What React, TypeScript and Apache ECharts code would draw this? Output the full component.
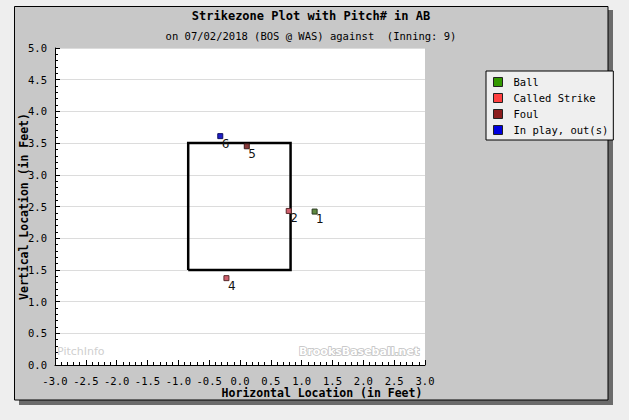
import React, { useEffect, useRef } from "react";
import * as echarts from "echarts";

// ---- data ----
const seriesNames = ["Ball", "Called Strike", "Foul", "In play, out(s)"];
const ballX = [1.21];
const ballY = [2.42];
const ballNum = ["1"];
const calledX = [0.79, -0.22];
const calledY = [2.43, 1.37];
const calledNum = ["2", "4"];
const foulX = [0.11];
const foulY = [3.45];
const foulNum = ["5"];
const inplayX = [-0.32];
const inplayY = [3.61];
const inplayNum = ["6"];
const szLeft = -0.84;
const szRight = 0.82;
const szBottom = 1.5;
const szTop = 3.5;
const xMin = -3, xMax = 3, yMin = 0, yMax = 5, tickStep = 0.5;

const titleText = "Strikezone Plot with Pitch# in AB";
const subtitleText = "on 07/02/2018 (BOS @ WAS) against  (Inning: 9)";
const xName = "Horizontal Location (in Feet)";
const yName = "Vertical Location (in Feet)";

const MONO = "DejaVu Sans Mono";

const fills = ["#5f8a40", "#d0606e", "#8a3a3a", "#1e1ec8"];
const borders = ["#2a3a20", "#5a2a2a", "#3a1a1a", "#101060"];
const legendFills = ["#339900", "#ff4040", "#8b1c1c", "#0000e0"];

function pts(xs: number[], ys: number[], ns: string[]) {
  return xs.map((x, i) => [x, ys[i], ns[i]]);
}

export default function App() {
  const ref = useRef<HTMLDivElement>(null);
  useEffect(() => {
    if (!ref.current) return;
    const chart = echarts.init(ref.current, undefined, { renderer: "svg" });
    const datas = [
      pts(ballX, ballY, ballNum),
      pts(calledX, calledY, calledNum),
      pts(foulX, foulY, foulNum),
      pts(inplayX, inplayY, inplayNum),
    ];
    const scatter = datas.map((d, i) => ({
      type: "scatter",
      name: seriesNames[i],
      data: d,
      symbol: "rect",
      symbolSize: 5,
      z: 5,
      itemStyle: { color: fills[i], borderColor: borders[i], borderWidth: 1, opacity: 1 },
      label: {
        show: true,
        formatter: (p: any) => p.data[2],
        position: [4.5, 4.5],
        fontFamily: "DejaVu Sans",
        fontSize: 12,
        color: "#111",
      },
    }));
    const option: any = {
      animation: false,
      backgroundColor: "#eeeeee",
      graphic: [
        { type: "rect", z: -100, shape: { x: 19, y: 10, width: 594, height: 395 }, style: { fill: "#6b6b6b" } },
        { type: "rect", z: -99, shape: { x: 14.5, y: 6.5, width: 593.5, height: 393.5 }, style: { fill: "#c8c8c8", stroke: "#000", lineWidth: 1 } },
        { type: "text", z: 1, x: 57, y: 346, style: { text: "PitchInfo", fill: "#cfcfcf", font: "11px 'DejaVu Sans'" } },
        { type: "text", z: 1, x: 299, y: 346, style: { text: "BrooksBaseball.net", fill: "#ffffff", stroke: "#c0c0c0", lineWidth: 1.5, font: "bold 11px 'DejaVu Sans'" } },
      ],
      title: [
        {
          text: titleText,
          left: 311,
          top: 10,
          textAlign: "center",
          padding: 0,
          textStyle: { fontFamily: MONO, fontSize: 12, fontWeight: "bold", color: "#000" },
        },
        {
          text: subtitleText,
          left: 311,
          top: 30,
          textAlign: "center",
          padding: 0,
          textStyle: { fontFamily: MONO, fontSize: 10.5, fontWeight: "normal", color: "#000" },
        },
      ],
      legend: {
        orient: "vertical",
        left: 486,
        top: 71,
        padding: [5, 5, 4, 7],
        itemWidth: 9,
        itemHeight: 9,
        itemGap: 4,
        backgroundColor: "#efefef",
        borderColor: "#000",
        borderWidth: 1,
        selectedMode: false,
        textStyle: { fontFamily: MONO, fontSize: 10.5, color: "#000", lineHeight: 12, padding: [0, 0, 0, 6] },
        data: seriesNames.map((n, i) => ({
          name: n,
          icon: "rect",
          itemStyle: { color: legendFills[i], borderColor: "#222", borderWidth: 1, opacity: 1 },
        })),
      },
      grid: {
        left: 55,
        top: 48,
        width: 370,
        height: 317,
        show: true,
        backgroundColor: "#ffffff",
        borderWidth: 0,
        containLabel: false,
        outerBoundsMode: "none",
      },
      xAxis: {
        type: "value",
        min: xMin,
        max: xMax,
        interval: tickStep,
        name: xName,
        nameLocation: "middle",
        nameGap: 22,
        nameMoveOverlap: false,
        nameTextStyle: {
          fontFamily: MONO,
          fontSize: 11.5,
          fontWeight: "bold",
          color: "#000",
          lineHeight: 12,
          padding: [0, 0, 0, 164],
        },
        axisLine: { show: true, onZero: false, lineStyle: { color: "#000", width: 1 } },
        axisTick: { show: true, inside: true, length: 5, lineStyle: { color: "#000" } },
        minorTick: { show: true, splitNumber: 5, length: 3, lineStyle: { color: "#000" } },
        splitLine: { show: false },
        axisLabel: {
          fontFamily: MONO,
          fontSize: 10.5,
          lineHeight: 10,
          color: "#000",
          margin: 11,
          showMinLabel: true,
          showMaxLabel: true,
          hideOverlap: false,
          formatter: (v: number) => v.toFixed(1),
        },
      },
      yAxis: {
        type: "value",
        min: yMin,
        max: yMax,
        interval: tickStep,
        name: yName,
        nameLocation: "middle",
        nameRotate: 90,
        nameGap: 25,
        nameMoveOverlap: false,
        nameTextStyle: { fontFamily: MONO, fontSize: 11.5, fontWeight: "bold", color: "#000" },
        axisLine: { show: true, onZero: false, lineStyle: { color: "#000", width: 1 } },
        axisTick: { show: true, inside: true, length: 5, lineStyle: { color: "#000" } },
        minorTick: { show: true, splitNumber: 5, length: 3, lineStyle: { color: "#000" } },
        splitLine: { show: true, lineStyle: { color: "#dcdcdc", width: 1 } },
        axisLabel: {
          fontFamily: MONO,
          fontSize: 10.5,
          color: "#000",
          margin: 8,
          showMinLabel: true,
          showMaxLabel: true,
          formatter: (v: number) => v.toFixed(1),
        },
      },
      series: [
        {
          type: "line",
          name: "Strike Zone",
          data: [
            [szLeft, szBottom],
            [szRight, szBottom],
            [szRight, szTop],
            [szLeft, szTop],
            [szLeft, szBottom],
          ],
          symbol: "none",
          silent: true,
          z: 3,
          lineStyle: { color: "#000", width: 2.5, join: "miter" },
        },
        ...scatter,
      ],
    };
    chart.setOption(option);
    return () => chart.dispose();
  }, []);
  return (
    <div
      ref={ref}
      style={{ position: "absolute", left: 0, top: 0, width: 629, height: 420, background: "#eeeeee" }}
    />
  );
}
